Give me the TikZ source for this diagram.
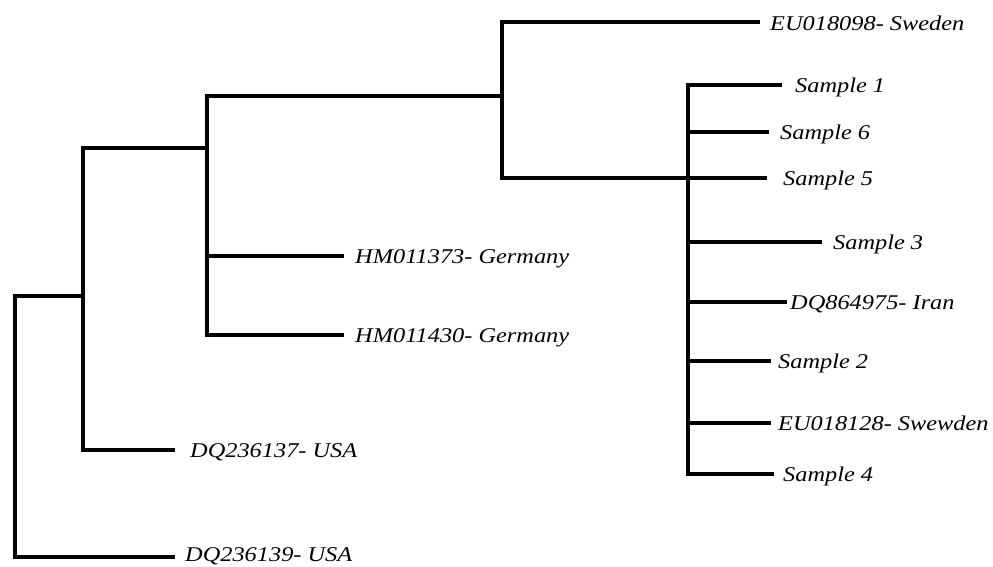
\documentclass[tikz,border=0pt]{standalone}
\usepackage{fontspec}
\newfontfamily\lblfont[FakeStretch=1.16]{Liberation Serif}
\begin{document}
\begin{tikzpicture}[x=1pt,y=-1pt,
  branch/.style={line width=3.5pt,line cap=rect,line join=miter},
  leaf/.style={anchor=base west,inner sep=0pt,font=\lblfont\itshape\fontsize{21}{24}\selectfont}]
\useasboundingbox (0,0) rectangle (993,566);
% internal nodes
\coordinate (r)  at (15,296);
\coordinate (c1) at (83,296);
\coordinate (c2) at (207,148);
\coordinate (c3) at (502,96);
\coordinate (c4) at (688,178);
% leaf tips
\coordinate (t139) at (173,557);
\coordinate (t137) at (173,450);
\coordinate (t373) at (342,256);
\coordinate (t430) at (342,335);
\coordinate (t098) at (758,22);
\coordinate (ts1) at (780,85);
\coordinate (ts6) at (767,132);
\coordinate (ts5) at (765,178);
\coordinate (ts3) at (820,242);
\coordinate (tir) at (785,302);
\coordinate (ts2) at (769,361);
\coordinate (t128) at (769,423);
\coordinate (ts4) at (772,474);
% labels
\node[leaf] (l139) at (185,561) {DQ236139- USA};
\node[leaf] (l137) at (190,457) {DQ236137- USA};
\node[leaf] (l373) at (355,263) {HM011373- Germany};
\node[leaf] (l430) at (355,342) {HM011430- Germany};
\node[leaf] (l098) at (770,30) {EU018098- Sweden};
\node[leaf] (ls1) at (795,92) {Sample 1};
\node[leaf] (ls6) at (780,139) {Sample 6};
\node[leaf] (ls5) at (783,185) {Sample 5};
\node[leaf] (ls3) at (833,249) {Sample 3};
\node[leaf] (lir) at (790,309) {DQ864975- Iran};
\node[leaf] (ls2) at (778,368) {Sample 2};
\node[leaf] (l128) at (778,430) {EU018128- Swewden};
\node[leaf] (ls4) at (783,481) {Sample 4};
% branches
\draw[branch] (r) |- (c1);
\draw[branch] (r) |- (t139);
\draw[branch] (c1) |- (c2);
\draw[branch] (c1) |- (t137);
\draw[branch] (c2) |- (c3);
\draw[branch] (c2) |- (t373);
\draw[branch] (c2) |- (t430);
\draw[branch] (c3) |- (t098);
\draw[branch] (c3) |- (c4);
\draw[branch] (c4) |- (ts1);
\draw[branch] (c4) |- (ts6);
\draw[branch] (c4) |- (ts5);
\draw[branch] (c4) |- (ts3);
\draw[branch] (c4) |- (tir);
\draw[branch] (c4) |- (ts2);
\draw[branch] (c4) |- (t128);
\draw[branch] (c4) |- (ts4);
\end{tikzpicture}
\end{document}
